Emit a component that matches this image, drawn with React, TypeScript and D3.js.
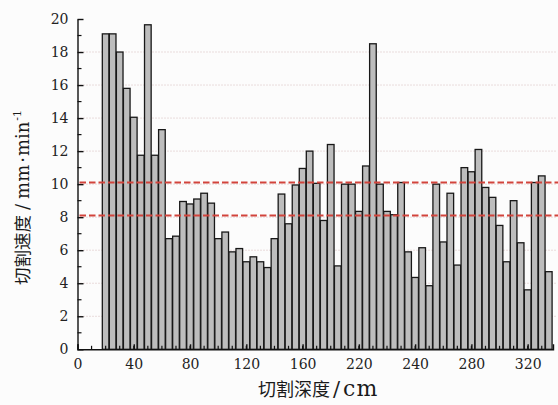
import * as d3 from "d3"
import { useEffect, useRef } from "react"

// cutting depth (cm) of each bar
const depths = [
  20, 25, 30, 35, 40, 45, 50, 55, 60, 65, 70, 75, 80, 85, 90, 95, 100, 105,
  110, 115, 120, 125, 130, 135, 140, 145, 150, 155, 160, 165, 170, 175, 180,
  185, 190, 195, 200, 205, 210, 215, 220, 225, 230, 235, 240, 245, 250, 255,
  260, 265, 270, 275, 280, 285, 290, 295, 300, 305, 310, 315, 320, 325, 330,
  335,
]

// cutting speed (mm/min)
const speeds = [
  19.1, 19.1, 18.0, 15.8, 14.05, 11.75, 19.65, 11.75, 13.3, 6.7, 6.85, 8.95,
  8.8, 9.1, 9.45, 8.85, 6.7, 7.1, 5.9, 6.1, 5.3, 5.6, 5.3, 4.95, 6.7, 9.4, 7.6,
  9.95, 10.95, 12.0, 10.05, 7.8, 12.4, 5.05, 10.0, 10.0, 8.35, 11.1, 18.5, 10.0,
  8.35, 8.15, 10.1, 5.9, 4.35, 6.15, 3.85, 10.0, 6.5, 9.45, 5.1, 11.0, 10.75,
  12.1, 9.8, 9.2, 7.5, 5.3, 9.0, 6.45, 3.6, 10.1, 10.5, 4.7,
]

const yTicks = [0, 2, 4, 6, 8, 10, 12, 14, 16, 18, 20]
const gridTicks = [2, 4, 6, 8, 10, 12, 14, 16, 18]
const xTickValues = [0, 40, 80, 120, 160, 200, 240, 280, 320]
const xTickLabels = ["0", "40", "80", "120", "160", "220", "240", "280", "320"]
const limitLines = [10.1, 8.1]

const W = 558
const H = 405

const App = () => {
  const svgRef = useRef<SVGSVGElement | null>(null)

  useEffect(() => {
    document.body.style.margin = "0"
    if (!svgRef.current) return
    const svg = d3.select(svgRef.current)
    svg.selectAll("*").remove()

    const x = d3.scaleLinear().domain([0, 338]).range([77.5, 553])
    const y = d3.scaleLinear().domain([0, 20]).range([349.3, 19])
    const serif = "'DejaVu Serif', 'Noto Sans CJK SC', serif"

    svg.append("rect").attr("width", W).attr("height", H).attr("fill", "#fcfcfc")

    // dotted grid
    svg
      .append("g")
      .selectAll("line")
      .data(gridTicks)
      .enter()
      .append("line")
      .attr("x1", x(0))
      .attr("x2", 556)
      .attr("y1", (d) => y(d))
      .attr("y2", (d) => y(d))
      .attr("stroke", "#d6bcbc")
      .attr("stroke-width", 1)
      .attr("stroke-dasharray", "1,2")

    // bars
    const bw = x(5) - x(0) - 0.4
    svg
      .append("g")
      .selectAll("rect")
      .data(depths)
      .enter()
      .append("rect")
      .attr("x", (d) => x(d) - bw / 2)
      .attr("y", (d, i) => y(speeds[i]))
      .attr("width", bw)
      .attr("height", (d, i) => y(0) - y(speeds[i]))
      .attr("fill", "#bdbdbd")
      .attr("stroke", "#181818")
      .attr("stroke-width", 1.3)

    // red limit lines
    svg
      .append("g")
      .selectAll("line")
      .data(limitLines)
      .enter()
      .append("line")
      .attr("x1", x(0) + 2)
      .attr("x2", W)
      .attr("y1", (d) => y(d))
      .attr("y2", (d) => y(d))
      .attr("stroke", "#d2443c")
      .attr("stroke-width", 2)
      .attr("stroke-dasharray", "6.5,3")

    // y axis
    const yAxis = svg
      .append("g")
      .attr("transform", `translate(${x(0)},0)`)
      .call(
        d3
          .axisLeft(y)
          .tickValues(yTicks)
          .tickSize(-6)
          .tickSizeOuter(0)
          .tickPadding(9),
      )
    yAxis
      .selectAll(".tick text")
      .style("font", `14px ${serif}`)
      .attr("fill", "#222")
    yAxis.selectAll("line, path").attr("stroke", "#111").attr("stroke-width", 1.4)
    yAxis
      .selectAll(".minor")
      .data(yTicks.slice(0, -1))
      .enter()
      .append("line")
      .attr("x1", 0)
      .attr("x2", 4)
      .attr("y1", (d) => y(d + 1))
      .attr("y2", (d) => y(d + 1))
      .attr("stroke", "#111")
      .attr("stroke-width", 1.2)

    // x axis
    const xAxis = svg
      .append("g")
      .attr("transform", `translate(0,${y(0)})`)
      .call(
        d3
          .axisBottom(x)
          .tickValues(xTickValues)
          .tickFormat((d, i) => xTickLabels[i])
          .tickSize(-5)
          .tickSizeOuter(-5)
          .tickPadding(10),
      )
    xAxis
      .selectAll(".tick text")
      .style("font", `14px ${serif}`)
      .attr("fill", "#222")
    xAxis.selectAll("line, path").attr("stroke", "#111").attr("stroke-width", 1.4)
    xAxis
      .selectAll(".minor")
      .data(d3.range(10, 338, 10))
      .enter()
      .append("line")
      .attr("x1", (d) => x(d))
      .attr("x2", (d) => x(d))
      .attr("y1", 0)
      .attr("y2", -3.5)
      .attr("stroke", "#111")
      .attr("stroke-width", 1.2)

    // x title
    const xt = svg
      .append("text")
      .attr("x", 258)
      .attr("y", 396)
      .attr("fill", "#1a1a1a")
      .style("font-family", serif)
    xt.append("tspan").style("font-size", "18px").text("切割深度")
    xt.append("tspan").style("font-size", "21px").attr("dx", 3).text("/")
    xt.append("tspan")
      .style("font-size", "22px")
      .attr("dx", 3)
      .style("letter-spacing", "1px")
      .text("cm")

    // y title
    const yt = svg
      .append("text")
      .attr("transform", "translate(29,285) rotate(-90)")
      .attr("fill", "#1a1a1a")
      .style("font-family", serif)
    yt.append("tspan").style("font-size", "17.5px").text("切割速度")
    yt.append("tspan").style("font-size", "18px").attr("dx", 5).text("/")
    yt.append("tspan").style("font-size", "18px").attr("dx", 5).text("mm")
    yt.append("tspan").style("font-size", "18px").attr("dx", 2).text("·")
    yt.append("tspan").style("font-size", "18px").attr("dx", 1).text("min")
    yt.append("tspan")
      .style("font-size", "11px")
      .attr("dx", 1)
      .attr("dy", -8)
      .text("-1")
  }, [])

  return <svg ref={svgRef} width={W} height={H} style={{ display: "block" }} />
}

export default App
